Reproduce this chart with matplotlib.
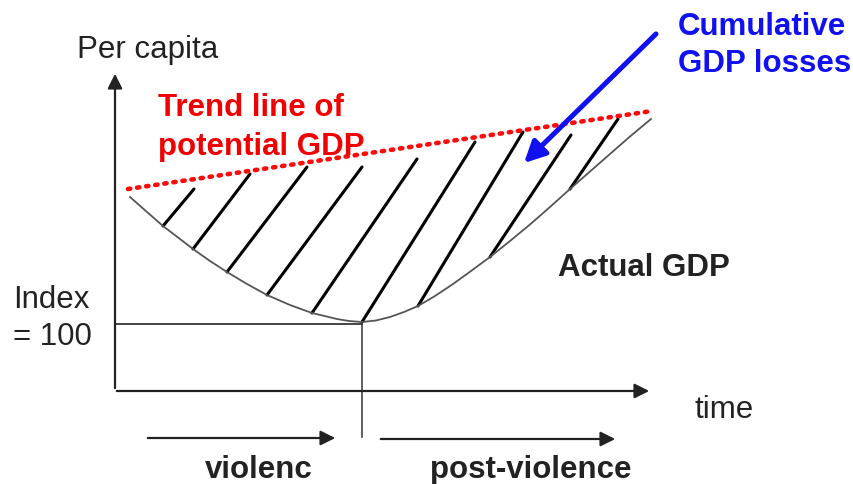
import matplotlib.pyplot as plt

plt.rcParams['font.family'] = ['Liberation Sans', 'DejaVu Sans']

# actual GDP curve (picture pixel units)
curve_x = [130, 147, 163, 180, 193, 210, 227, 247, 267, 290, 312, 337, 349, 362,
           376, 390, 404, 418, 435, 453, 471, 490, 510, 530, 550, 570, 590, 610, 630, 651]
curve_y = [198, 213, 227, 240, 250, 262, 273, 285, 296, 306, 314, 320, 322, 323,
           321.5, 318, 313, 307, 297, 285, 272, 258, 242, 225.5, 208, 190, 172.5, 155, 137.5, 120]

# trend line of potential GDP
trend_x = [128, 652]
trend_y = [190, 112]

# hatch lines: bottom point on the curve, top point near the trend
hatch_x0 = [163, 193, 227, 267, 312, 362, 418, 490, 570]
hatch_y0 = [227, 250, 273, 296, 314, 323, 307, 258, 190]
hatch_x1 = [194, 250, 307, 362, 417, 475, 523, 571, 618]
hatch_y1 = [190, 175, 168, 168, 160, 143, 133, 136, 120]

index_level = 324
turn_x = 362

fig = plt.figure(figsize=(8.54, 4.85), dpi=100)
ax = fig.add_axes([0, 0, 1, 1])
ax.set_xlim(0, 854)
ax.set_ylim(485, 0)
ax.axis('off')

ink = '#222222'

# axes with arrows
ax.annotate('', xy=(115, 72), xytext=(115, 392),
            arrowprops=dict(arrowstyle='-|>', color=ink, lw=1.6, mutation_scale=22))
ax.annotate('', xy=(652, 392), xytext=(114, 392),
            arrowprops=dict(arrowstyle='-|>', color=ink, lw=1.6, mutation_scale=22))

# index = 100 line and the turning point line
ax.plot([115, turn_x], [index_level + 1, index_level + 1], color='#444444', lw=1.4)
ax.plot([turn_x, turn_x], [index_level, 438], color='#444444', lw=1.2)

# hatching
for x0, y0, x1, y1 in zip(hatch_x0, hatch_y0, hatch_x1, hatch_y1):
    ax.plot([x0, x1], [y0, y1], color='black', lw=2.2, solid_capstyle='round')

# actual GDP curve
ax.plot(curve_x, curve_y, color='#555555', lw=1.3, solid_joinstyle='round')

# trend line, dotted red
ax.plot(trend_x, trend_y, color='#ff0a0a', lw=3.3, linestyle=(0, (0.5, 1.5)),
        dash_capstyle='round')

# period arrows
ax.annotate('', xy=(338, 439), xytext=(145, 439),
            arrowprops=dict(arrowstyle='-|>', color=ink, lw=1.6, mutation_scale=22))
ax.annotate('', xy=(618, 440), xytext=(378, 440),
            arrowprops=dict(arrowstyle='-|>', color=ink, lw=1.6, mutation_scale=22))

# blue pointer arrow
ax.annotate('', xy=(522, 166), xytext=(658, 33),
            arrowprops=dict(arrowstyle='-|>', color='#1010f0', lw=3.6, mutation_scale=32))

fs = 22.5
ax.text(77, 50, 'Per capita', fontsize=fs, color=ink, ha='left', va='center')
ax.text(13, 300, 'Index', fontsize=fs, color=ink, ha='left', va='center')
ax.text(13, 337, '= 100', fontsize=fs, color=ink, ha='left', va='center')
ax.text(695, 410, 'time', fontsize=fs, color=ink, ha='left', va='center')
ax.text(205, 470, 'violenc', fontsize=fs, color=ink, ha='left', va='center', fontweight='bold')
ax.text(430, 470, 'post-violence', fontsize=fs, color=ink, ha='left', va='center', fontweight='bold')
ax.text(558, 268, 'Actual GDP', fontsize=fs, color=ink, ha='left', va='center', fontweight='bold')
ax.text(158, 108, 'Trend line of', fontsize=fs, color='#f00000', ha='left', va='center', fontweight='bold')
ax.text(158, 147, 'potential GDP', fontsize=fs, color='#f00000', ha='left', va='center', fontweight='bold')
ax.text(678, 27, 'Cumulative', fontsize=fs, color='#1010f0', ha='left', va='center', fontweight='bold')
ax.text(678, 64, 'GDP losses', fontsize=fs, color='#1010f0', ha='left', va='center', fontweight='bold')

fig.savefig('out.png', dpi=100)
